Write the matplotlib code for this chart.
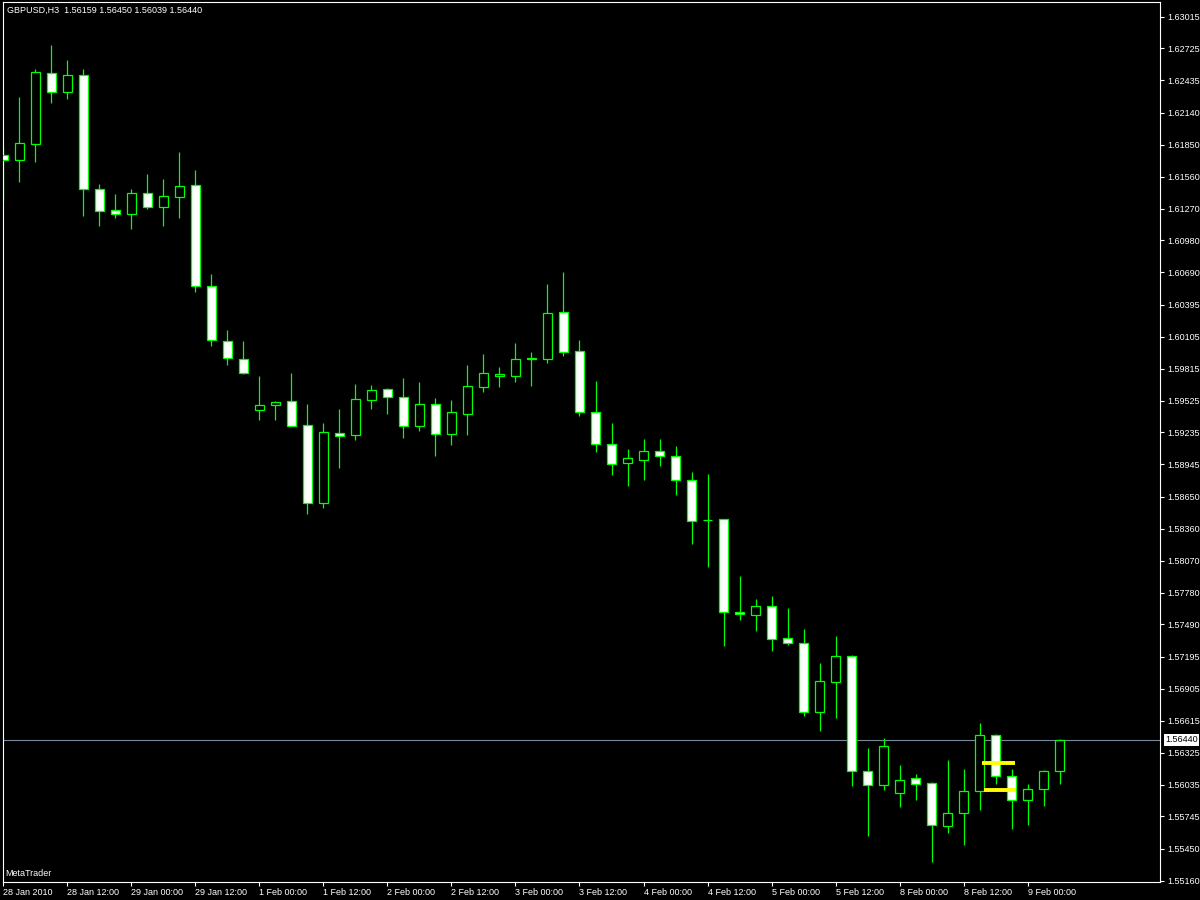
import matplotlib
matplotlib.use("Agg")
import matplotlib.pyplot as plt
import matplotlib.transforms as mtransforms

plt.rcParams['font.family'] = ['Liberation Sans', 'DejaVu Sans']

symbol = "GBPUSD,H3"

opens = [1.61754, 1.61708, 1.61859, 1.62499, 1.62326, 1.62481, 1.61445, 1.61254, 1.61223, 1.61408,
         1.61287, 1.61377, 1.61481, 1.60563, 1.60063, 1.59900, 1.59436, 1.59482, 1.59518, 1.59300,
         1.58596, 1.59227, 1.59214, 1.59533, 1.59627, 1.59554, 1.59296, 1.59491, 1.59224, 1.59405,
         1.59651, 1.59752, 1.59751, 1.59902, 1.59905, 1.60327, 1.59972, 1.59418, 1.59127, 1.58954,
         1.58987, 1.59063, 1.59018, 1.58800, 1.58439, 1.58446, 1.57603, 1.57579, 1.57655, 1.57364,
         1.57319, 1.56692, 1.56964, 1.57201, 1.56155, 1.56028, 1.55955, 1.56092, 1.56046, 1.55656,
         1.55774, 1.55974, 1.56483, 1.56110, 1.55892, 1.55992, 1.56159]
highs = [1.61820, 1.62283, 1.62538, 1.62756, 1.62620, 1.62538, 1.61493, 1.61402, 1.61447, 1.61584,
         1.61538, 1.61784, 1.61620, 1.60675, 1.60166, 1.60066, 1.59748, 1.59521, 1.59775, 1.59493,
         1.59321, 1.59448, 1.59675, 1.59666, 1.59639, 1.59730, 1.59693, 1.59548, 1.59530, 1.59848,
         1.59948, 1.59830, 1.60048, 1.59966, 1.60584, 1.60693, 1.60075, 1.59702, 1.59321, 1.59084,
         1.59175, 1.59175, 1.59112, 1.58875, 1.58857, 1.58448, 1.57930, 1.57721, 1.57749, 1.57640,
         1.57449, 1.57140, 1.57385, 1.57212, 1.56367, 1.56458, 1.56213, 1.56131, 1.56058, 1.56258,
         1.56176, 1.56594, 1.56494, 1.56176, 1.56040, 1.56167, 1.56450]
lows = [1.61341, 1.61514, 1.61695, 1.62232, 1.62268, 1.61205, 1.61114, 1.61187, 1.61087, 1.61268,
        1.61114, 1.61187, 1.60514, 1.60023, 1.59851, 1.59762, 1.59351, 1.59351, 1.59296, 1.58494,
        1.58548, 1.58912, 1.59166, 1.59448, 1.59403, 1.59184, 1.59248, 1.59021, 1.59121, 1.59212,
        1.59603, 1.59648, 1.59693, 1.59657, 1.59869, 1.59930, 1.59387, 1.59060, 1.58848, 1.58751,
        1.58805, 1.58933, 1.58669, 1.58224, 1.58015, 1.57297, 1.57530, 1.57433, 1.57251, 1.57306,
        1.56661, 1.56524, 1.56643, 1.56025, 1.55570, 1.55988, 1.55834, 1.55897, 1.55334, 1.55597,
        1.55488, 1.55806, 1.56043, 1.55634, 1.55670, 1.55843, 1.56039]
closes = [1.61708, 1.61863, 1.62508, 1.62326, 1.62481, 1.61445, 1.61252, 1.61223, 1.61408, 1.61287,
          1.61381, 1.61472, 1.60563, 1.60072, 1.59909, 1.59772, 1.59482, 1.59509, 1.59296, 1.58596,
          1.59236, 1.59205, 1.59536, 1.59618, 1.59554, 1.59296, 1.59491, 1.59224, 1.59418, 1.59654,
          1.59772, 1.59762, 1.59900, 1.59911, 1.60318, 1.59969, 1.59418, 1.59127, 1.58945, 1.59000,
          1.59063, 1.59018, 1.58800, 1.58433, 1.58439, 1.57600, 1.57582, 1.57655, 1.57360, 1.57319,
          1.56692, 1.56973, 1.57201, 1.56155, 1.56028, 1.56383, 1.56074, 1.56037, 1.55665, 1.55774,
          1.55974, 1.56483, 1.56110, 1.55892, 1.55992, 1.56155, 1.56440]

time_labels = ["28 Jan 2010", "28 Jan 12:00", "29 Jan 00:00", "29 Jan 12:00", "1 Feb 00:00",
               "1 Feb 12:00", "2 Feb 00:00", "2 Feb 12:00", "3 Feb 00:00", "3 Feb 12:00",
               "4 Feb 00:00", "4 Feb 12:00", "5 Feb 00:00", "5 Feb 12:00", "8 Feb 00:00",
               "8 Feb 12:00", "9 Feb 00:00"]
bars_per_label = 4

price_ticks = [1.63015, 1.62725, 1.62435, 1.62140, 1.61850, 1.61560, 1.61270, 1.60980, 1.60690,
               1.60395, 1.60105, 1.59815, 1.59525, 1.59235, 1.58945, 1.58650, 1.58360, 1.58070,
               1.57780, 1.57490, 1.57195, 1.56905, 1.56615, 1.56325, 1.56035, 1.55745, 1.55450,
               1.55160]

yellow_levels = [1.56233, 1.55987]
yellow_from = [61.15, 61.3]
yellow_to = [63.2, 63.3]

bid = closes[-1]

green = "#00ff00"
fig = plt.figure(figsize=(12, 9), dpi=100, facecolor="black")
ax = fig.add_axes([3 / 1200, 18 / 900, 1157 / 1200, 880 / 900], facecolor="black")

n = len(opens)
xs = list(range(n))

# wicks first, bodies on top
ax.vlines(xs, lows, highs, color=green, linewidth=0.9, zorder=2)
bottoms = [min(o, c) for o, c in zip(opens, closes)]
heights = [abs(c - o) for o, c in zip(opens, closes)]
faces = ["black" if c > o else "white" for o, c in zip(opens, closes)]
ax.bar(xs, heights, bottom=bottoms, width=0.62, color=faces, edgecolor=green,
       linewidth=0.9, zorder=3)

# current bid line
ax.axhline(bid, color="#778899", linewidth=0.8, zorder=1)

for lvl, x0, x1 in zip(yellow_levels, yellow_from, yellow_to):
    ax.hlines(lvl, x0, x1, color="#ffff00", linewidth=2.8, zorder=4)

ax.set_xlim(-0.03, 72.28)
ax.set_ylim(1.55149, 1.63147)

ax.yaxis.tick_right()
ax.set_yticks(price_ticks)
ax.set_yticklabels([f"{p:.5f}" for p in price_ticks])
ax.tick_params(axis="y", colors="white", length=3, width=0.8, pad=2, labelsize=6.5)

tick_pos = [i * bars_per_label for i in range(len(time_labels))]
ax.set_xticks(tick_pos)
ax.set_xticklabels(time_labels, ha="left")
ax.tick_params(axis="x", colors="white", length=3, width=0.8, pad=1, labelsize=6.5)
for lab in ax.get_xticklabels():
    lab.set_horizontalalignment("left")

for sp in ax.spines.values():
    sp.set_color("white")
    sp.set_linewidth(0.8)

# bid price box on the price scale
trans = mtransforms.blended_transform_factory(fig.transFigure, ax.transData)
ax.text(1165 / 1200, bid, f"{bid:.5f}", transform=trans, color="black", fontsize=6.5,
        va="center", ha="left", clip_on=False,
        bbox=dict(boxstyle="square,pad=0.15", facecolor="white", edgecolor="none"))

header = f"{symbol}  {opens[-1]:.5f} {highs[-1]:.5f} {lows[-1]:.5f} {closes[-1]:.5f}"
fig.text(7 / 1200, 1 - 10.5 / 900, header, color="white", fontsize=6.5, va="center", ha="left")
fig.text(5 / 1200, 1 - 874 / 900, "MetaTrader", color="white", fontsize=6.5, va="center", ha="left")

fig.savefig("out.png", dpi=100, facecolor="black")
